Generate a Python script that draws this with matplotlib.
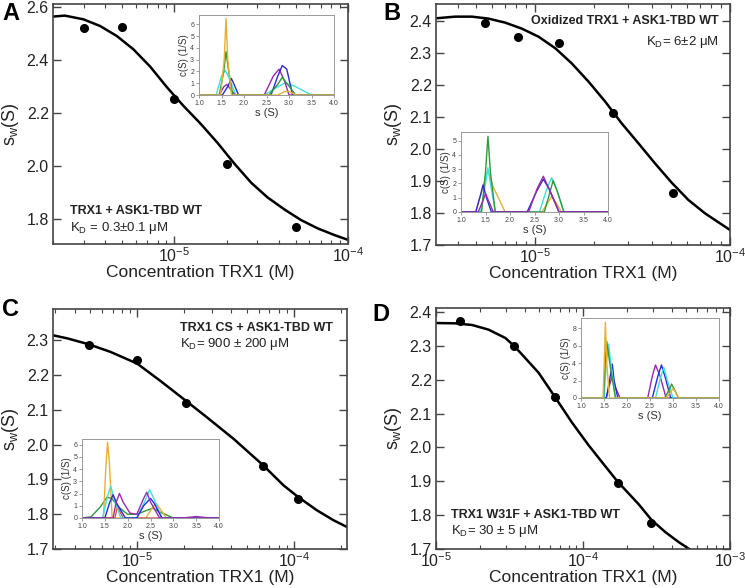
import matplotlib
matplotlib.use("Agg")
import matplotlib.pyplot as plt
from matplotlib.ticker import LogLocator, NullFormatter, MultipleLocator

plt.rcParams['font.family'] = ['Liberation Sans', 'DejaVu Sans']
plt.rcParams['mathtext.fontset'] = 'custom'
plt.rcParams['mathtext.rm'] = 'Liberation Sans'

# ---------------- data: main panels ----------------
A_conc = [3.0e-6, 5.0e-6, 1.0e-5, 2.0e-5, 5.0e-5]
A_sw = [2.52, 2.525, 2.25, 2.007, 1.77]
A_fit_x = [1.98e-6, 2.34e-6, 2.99e-6, 3.73e-6, 4.66e-6, 5.81e-6, 7.26e-6, 9.07e-6,
           1.13e-5, 1.41e-5, 1.77e-5, 2.21e-5, 2.77e-5, 3.44e-5, 4.30e-5, 5.37e-5,
           6.70e-5, 8.37e-5, 1.01e-4]
A_fit_y = [2.5624, 2.5662, 2.5523, 2.5272, 2.4894, 2.4391, 2.3737, 2.2957, 2.2253,
           2.1599, 2.0869, 2.0090, 1.9360, 1.8807, 1.8354, 1.7951, 1.7637, 1.7385,
           1.7196]

B_conc = [5.5e-6, 8.2e-6, 1.33e-5, 2.5e-5, 5.1e-5]
B_sw = [2.395, 2.351, 2.332, 2.113, 1.864]
B_fit_x = [3.10e-6, 3.89e-6, 4.74e-6, 5.77e-6, 7.02e-6, 8.55e-6, 1.04e-5, 1.27e-5,
           1.54e-5, 1.88e-5, 2.29e-5, 2.78e-5, 3.39e-5, 4.12e-5, 5.02e-5, 6.12e-5,
           7.44e-5, 1.0e-4]
B_fit_y = [2.4083, 2.4135, 2.4135, 2.4073, 2.3948, 2.3760, 2.3510, 2.3146, 2.2677,
           2.2104, 2.1479, 2.0802, 2.0177, 1.9552, 1.8948, 1.8406, 1.7990, 1.7469]

C_conc = [4.9e-6, 1.0e-5, 2.06e-5, 6.4e-5, 1.07e-4]
C_sw = [2.287, 2.244, 2.121, 1.938, 1.843]
C_fit_x = [2.91e-6, 3.57e-6, 4.91e-6, 6.76e-6, 1.0e-5, 1.41e-5, 2.05e-5, 2.80e-5,
           4.14e-5, 6.34e-5, 8.63e-5, 1.07e-4, 1.41e-4, 1.80e-4, 2.19e-4]
C_fit_y = [2.3143, 2.3057, 2.2885, 2.2666, 2.2331, 2.183, 2.126, 2.078, 2.0163,
           1.9418, 1.8826, 1.8492, 1.8110, 1.7824, 1.7633]

D_conc = [1.46e-5, 3.38e-5, 6.4e-5, 1.72e-4, 2.9e-4]
D_sw = [2.373, 2.299, 2.149, 1.895, 1.778]
D_fit_x = [1.0e-5, 1.35e-5, 1.76e-5, 2.28e-5, 2.96e-5, 3.38e-5, 3.85e-5, 4.99e-5,
           6.38e-5, 8.42e-5, 1.09e-4, 1.42e-4, 1.72e-4, 2.39e-4, 2.92e-4, 3.63e-4,
           4.47e-4, 5.23e-4, 6.79e-4]
D_fit_y = [2.3676, 2.3667, 2.3618, 2.3480, 2.3235, 2.3010, 2.2745, 2.2206, 2.1520,
           2.0735, 2.0069, 1.9441, 1.8990, 1.8324, 1.7863, 1.75, 1.7206, 1.701, 1.671]

# ---------------- data: inset c(S) curves ----------------
ORANGE, GREEN, CYAN, BLUE, PURPLE, RED = '#e8b030', '#2f9a3a', '#40e0e0', '#2a2ad6', '#9a2aaa', '#e05050'

A_ins = [
    (CYAN, [1.0, 1.38, 1.5, 1.58, 1.65, 1.82, 2.45, 2.7, 2.9, 3.1, 3.5, 4.0],
           [0, 0, 1.6, 2.1, 1.6, 0, 0, 0.6, 1.0, 0.8, 0, 0]),
    (PURPLE, [1.0, 1.45, 1.55, 1.62, 1.7, 1.8, 2.45, 2.65, 2.78, 2.9, 3.0, 4.0],
             [0, 0, 0.7, 0.9, 0.5, 0, 0, 1.6, 2.2, 1.2, 0, 0]),
    (BLUE, [1.0, 1.52, 1.65, 1.72, 1.78, 1.88, 2.6, 2.75, 2.85, 2.95, 3.08, 4.0],
           [0, 0, 0.8, 1.4, 0.9, 0, 0, 1.6, 2.5, 2.2, 0, 0]),
    (GREEN, [1.0, 1.45, 1.55, 1.6, 1.66, 1.75, 2.55, 2.75, 2.85, 2.95, 3.15, 4.0],
            [0, 0, 2.0, 3.7, 2.0, 0, 0, 0.9, 1.5, 1.0, 0, 0]),
    (ORANGE, [1.0, 1.48, 1.56, 1.6, 1.64, 1.72, 2.75, 2.9, 3.0, 3.15, 4.0],
             [0, 0, 3.0, 6.5, 3.0, 0, 0, 0.3, 0.3, 0, 0]),
]

B_ins = [
    (ORANGE, [1.0, 1.3, 1.45, 1.55, 1.65, 1.9, 2.65, 2.8, 2.85, 2.95, 3.05, 4.0],
             [0, 0, 1.8, 2.9, 1.8, 0, 0, 0.8, 1.1, 0.6, 0, 0]),
    (CYAN, [1.0, 1.4, 1.5, 1.55, 1.6, 1.7, 2.6, 2.75, 2.85, 2.95, 3.1, 4.0],
           [0, 0, 2.0, 3.1, 2.0, 0, 0, 1.6, 2.4, 1.6, 0, 0]),
    (GREEN, [1.0, 1.42, 1.5, 1.55, 1.6, 1.7, 2.7, 2.8, 2.88, 2.97, 3.1, 4.0],
            [0, 0, 2.8, 5.3, 2.8, 0, 0, 1.2, 2.2, 1.4, 0, 0]),
    (BLUE, [1.0, 1.3, 1.4, 1.45, 1.52, 1.62, 2.35, 2.55, 2.68, 2.8, 3.0, 4.0],
           [0, 0, 1.2, 1.9, 1.0, 0, 0, 1.5, 2.3, 1.6, 0, 0]),
    (PURPLE, [1.0, 1.35, 1.45, 1.5, 1.56, 1.66, 2.38, 2.55, 2.68, 2.8, 3.0, 4.0],
             [0, 0, 0.8, 1.3, 0.8, 0, 0, 1.6, 2.5, 1.6, 0, 0]),
]

C_ins = [
    (GREEN, [1.0, 1.2, 1.4, 1.55, 1.65, 1.8, 2.0, 2.2, 2.4, 2.55, 2.7, 3.0, 4.0],
            [0, 0.1, 0.9, 1.7, 1.6, 0.9, 0.3, 0.3, 0.6, 0.8, 0.5, 0, 0]),
    (ORANGE, [1.0, 1.47, 1.52, 1.56, 1.6, 1.66, 2.4, 2.55, 2.62, 2.7, 2.85, 4.0],
             [0, 0, 4.0, 6.2, 4.5, 0, 0, 0.9, 1.2, 0.8, 0, 0]),
    (RED, [1.0, 1.72, 1.78, 1.82, 1.9, 4.0],
          [0, 0, 1.0, 0.6, 0, 0]),
    (CYAN, [1.0, 1.45, 1.56, 1.63, 1.7, 1.85, 2.2, 2.38, 2.48, 2.56, 2.75, 4.0],
           [0, 0, 1.8, 2.6, 1.6, 0, 0, 1.4, 2.3, 1.7, 0, 0]),
    (BLUE, [1.0, 1.5, 1.6, 1.68, 1.76, 1.95, 2.2, 2.35, 2.5, 2.58, 2.75, 4.0],
           [0, 0, 1.2, 1.9, 1.2, 0, 0, 1.0, 1.6, 1.2, 0, 0]),
    (PURPLE, [1.0, 1.68, 1.75, 1.82, 1.9, 2.05, 2.2, 2.35, 2.42, 2.5, 2.7, 3.2, 3.5, 3.8, 4.0],
             [0, 0, 1.3, 2.0, 1.3, 0.4, 0.3, 1.6, 2.1, 1.3, 0, 0, 0.12, 0, 0]),
]

D_ins = [
    (PURPLE, [1.0, 1.55, 1.62, 1.68, 1.75, 1.85, 2.45, 2.55, 2.62, 2.72, 2.85, 4.0],
             [0, 0, 1.5, 2.5, 1.2, 0, 0, 2.5, 3.8, 2.5, 0, 0]),
    (BLUE, [1.0, 1.55, 1.62, 1.68, 1.72, 1.8, 2.55, 2.67, 2.75, 2.83, 2.95, 4.0],
           [0, 0, 2.0, 3.9, 2.0, 0, 0, 2.5, 3.8, 2.4, 0, 0]),
    (CYAN, [1.0, 1.5, 1.55, 1.6, 1.66, 1.75, 2.62, 2.72, 2.8, 2.88, 3.0, 4.0],
           [0, 0, 4.0, 6.2, 3.5, 0, 0, 2.2, 3.5, 2.0, 0, 0]),
    (GREEN, [1.0, 1.49, 1.53, 1.56, 1.64, 1.75, 2.82, 2.92, 2.97, 3.03, 3.12, 4.0],
            [0, 0, 4.5, 6.5, 3.5, 0, 0, 1.0, 1.6, 1.0, 0, 0]),
    (ORANGE, [1.0, 1.48, 1.51, 1.53, 1.56, 1.62, 2.85, 2.95, 3.0, 3.05, 3.12, 4.0],
             [0, 0, 5.0, 8.7, 4.0, 0, 0, 0.7, 1.1, 0.7, 0, 0]),
]

# ---------------- layout (pixel boxes) ----------------
W, H = 745, 588
fig = plt.figure(figsize=(W / 100, H / 100), dpi=100)


def box(l, t, r, b):
    return [l / W, 1 - b / H, (r - l) / W, (b - t) / H]


def main_axes(rect, xlim, ylim, ystep):
    ax = fig.add_axes(box(*rect))
    ax.set_xscale('log')
    ax.set_xlim(*xlim)
    ax.set_ylim(*ylim)
    ax.yaxis.set_major_locator(MultipleLocator(ystep))
    ax.xaxis.set_major_locator(LogLocator(base=10, numticks=10))
    ax.xaxis.set_minor_locator(LogLocator(base=10, subs=range(2, 10), numticks=20))
    ax.xaxis.set_minor_formatter(NullFormatter())
    ax.tick_params(which='both', direction='in', top=True, right=True, labelsize=11.5,
                   color='#444444', labelcolor='#222222')
    ax.tick_params(which='major', length=6, width=1.0, pad=3)
    ax.tick_params(axis='x', which='major', pad=2)
    ax.tick_params(which='minor', length=3, width=0.8)
    for s in ax.spines.values():
        s.set_color('#444444')
        s.set_linewidth(1.2)
    ax.set_xlabel('Concentration TRX1 (M)', fontsize=12.5, labelpad=0, color='#222222')
    ax.set_ylabel(r'$\mathregular{s_w}$(S)', fontsize=13, color='#222222')
    ax.yaxis.set_label_coords(-0.11, 0.5)
    return ax


def inset_axes(rect, curves, ylim, ytick_step):
    ax = fig.add_axes(box(*rect))
    for color, s, c in curves:
        ax.plot(s, c, color=color, lw=1.0)
    ax.set_xlim(1.0, 4.0)
    ax.set_ylim(*ylim)
    ax.set_xticks([1.0, 1.5, 2.0, 2.5, 3.0, 3.5, 4.0])
    ax.set_xticklabels(['1.0', '1.5', '2.0', '2.5', '3.0', '3.5', '4.0'])
    ax.yaxis.set_major_locator(MultipleLocator(ytick_step))
    ax.tick_params(labelsize=5, length=2, width=0.5, pad=1.5, color='#777777',
                   labelcolor='#444444')
    for s in ax.spines.values():
        s.set_color('#999999')
        s.set_linewidth(0.7)
    ax.set_xlabel('s (S)', fontsize=8, labelpad=0.5, color='#333333')
    ax.set_ylabel('c(S) (1/S)', fontsize=7, labelpad=1, color='#333333')
    return ax


panels = [
    dict(rect=(53, 4, 348, 244), xlim=(2.0e-6, 1.0e-4), ylim=(1.705, 2.61), ystep=0.2,
         cx=A_conc, cy=A_sw, fx=A_fit_x, fy=A_fit_y,
         ins=((199, 15, 334, 95), A_ins, (0, 6.8), 1)),
    dict(rect=(436, 4, 730, 245), xlim=(3.1e-6, 1.0e-4), ylim=(1.7, 2.453), ystep=0.1,
         cx=B_conc, cy=B_sw, fx=B_fit_x, fy=B_fit_y,
         ins=((461, 132, 608, 212), B_ins, (0, 5.6), 1)),
    dict(rect=(53, 309, 347, 549), xlim=(2.9e-6, 2.19e-4), ylim=(1.7, 2.39), ystep=0.1,
         cx=C_conc, cy=C_sw, fx=C_fit_x, fy=C_fit_y,
         ins=((82, 439, 219, 518), C_ins, (0, 6.45), 1)),
    dict(rect=(436, 308, 730, 549), xlim=(1.0e-5, 1.0e-3), ylim=(1.7, 2.412), ystep=0.1,
         cx=D_conc, cy=D_sw, fx=D_fit_x, fy=D_fit_y,
         ins=((581, 318, 719, 398), D_ins, (0, 9.2), 2)),
]

axes = []
for p in panels:
    ax = main_axes(p['rect'], p['xlim'], p['ylim'], p['ystep'])
    ax.plot(p['fx'], p['fy'], color='black', lw=1.8, zorder=2, solid_joinstyle='round')
    ax.plot(p['cx'], p['cy'], 'o', color='black', ms=5.5, zorder=3)
    inset_axes(*p['ins'])
    axes.append(ax)

axA, axB, axC, axD = axes

# annotations
bold = dict(fontsize=9, fontweight='bold', color='#222222')
norm = dict(fontsize=9.5, color='#222222')
axA.text(0.058, 0.125, 'TRX1 + ASK1-TBD WT', transform=axA.transAxes, **bold)
axA.text(0.058, 0.055, r'K$_\mathregular{D}$ = 0.3$\pm$0.1 μM', transform=axA.transAxes, **norm)
axB.text(0.962, 0.915, 'Oxidized TRX1 + ASK1-TBD WT', transform=axB.transAxes, ha='right', **bold)
axB.text(0.962, 0.83, r'K$_\mathregular{D}$= 6$\pm$2 μM', transform=axB.transAxes, ha='right', **norm)
axC.text(0.432, 0.909, 'TRX1 CS + ASK1-TBD WT', transform=axC.transAxes, **bold)
axC.text(0.432, 0.842, r'K$_\mathregular{D}$= 900 ± 200 μM', transform=axC.transAxes, **norm)
axD.text(0.051, 0.128, 'TRX1 W31F + ASK1-TBD WT', transform=axD.transAxes, **bold)
axD.text(0.051, 0.063, r'K$_\mathregular{D}$= 30 ± 5 μM', transform=axD.transAxes, **norm)

# panel letters
for letter, (x, y) in zip('ABCD', [(2, 2), (383, 2), (2, 298), (372, 303)]):
    fig.text(x / W, 1 - y / H, letter, fontsize=17, fontweight='bold', va='top', ha='left')

fig.savefig('out.png', dpi=100)
